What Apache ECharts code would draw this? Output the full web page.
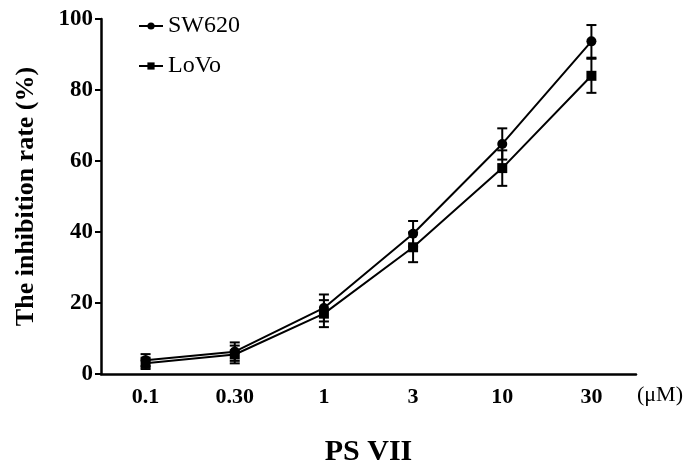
<!DOCTYPE html>
<html><head><meta charset="utf-8">
<script src="https://cdn.jsdelivr.net/npm/echarts@6/dist/echarts.min.js"></script>
<style>html,body{margin:0;padding:0;background:#fff}#c{width:689px;height:466px}</style>
</head><body><div id="c"></div>
<script>
const categories = ['0.1', '0.30', '1', '3', '10', '30'];
const sw620 = [3.9, 6.3, 18.6, 39.5, 64.8, 93.7];
const sw620Err = [1.7, 2.6, 3.8, 3.6, 4.4, 4.6];
const lovo = [3.0, 5.5, 17.0, 35.7, 58.0, 84.0];
const lovoErr = [1.6, 2.5, 3.8, 4.2, 5.0, 4.8];
const yTicks = [0, 20, 40, 60, 80, 100];

const FONT = '"Liberation Serif", "Times New Roman", serif';

function errSeries(name, vals, errs) {
  return {
    type: 'custom', name: name + ' err', silent: true, z: 3,
    data: vals.map((v, i) => [i, v - errs[i], v + errs[i]]),
    renderItem: function (params, api) {
      const lo = api.coord([api.value(0), api.value(1)]);
      const hi = api.coord([api.value(0), api.value(2)]);
      const w = 5;
      const st = { stroke: '#000', lineWidth: 2 };
      return { type: 'group', children: [
        { type: 'line', shape: { x1: lo[0], y1: lo[1], x2: hi[0], y2: hi[1] }, style: st },
        { type: 'line', shape: { x1: lo[0] - w, y1: lo[1], x2: lo[0] + w, y2: lo[1] }, style: st },
        { type: 'line', shape: { x1: hi[0] - w, y1: hi[1], x2: hi[0] + w, y2: hi[1] }, style: st }
      ]};
    }
  };
}

const chart = echarts.init(document.getElementById('c'));
chart.setOption({
  animation: false,
  grid: { left: 101, right: 53, top: 19, bottom: 92, containLabel: false, outerBoundsMode: 'none' },
  legend: {
    left: 133, top: 9, orient: 'vertical', itemGap: 16, itemWidth: 24, itemHeight: 9,
    data: ['SW620', 'LoVo'],
    textStyle: { fontFamily: FONT, fontSize: 24, color: '#000' }
  },
  xAxis: {
    type: 'category', data: categories, boundaryGap: true,
    axisLine: { lineStyle: { color: '#000', width: 2.5 } },
    axisTick: { alignWithLabel: true, length: 6, lineStyle: { color: '#000', width: 2 } },
    axisLabel: { fontFamily: FONT, fontWeight: 'bold', fontSize: 22, color: '#000', margin: 12 },
    name: 'PS VII', nameLocation: 'middle', nameGap: 63,
    nameTextStyle: { fontFamily: FONT, fontWeight: 'bold', fontSize: 30, color: '#000' }
  },
  yAxis: {
    type: 'value', min: 0, max: 100, interval: 20,
    axisLine: { show: true, lineStyle: { color: '#000', width: 2.5 } },
    axisTick: { show: true, length: 6, lineStyle: { color: '#000', width: 2 } },
    splitLine: { show: false },
    axisLabel: { fontFamily: FONT, fontWeight: 'bold', fontSize: 23, color: '#000', margin: 8,
      formatter: v => yTicks.includes(v) ? String(v) : '' },
    name: 'The inhibition rate (%)', nameLocation: 'middle', nameGap: 62,
    nameTextStyle: { fontFamily: FONT, fontWeight: 'bold', fontSize: 26, color: '#000' }
  },
  graphic: [{
    type: 'text', left: 637, top: 384,
    style: { text: '(μM)', font: '22px ' + FONT, fill: '#000' }
  }],
  series: [
    { name: 'SW620', type: 'line', data: sw620, symbol: 'circle', symbolSize: 10,
      lineStyle: { color: '#000', width: 2 }, itemStyle: { color: '#000' }, z: 4 },
    { name: 'LoVo', type: 'line', data: lovo, symbol: 'rect', symbolSize: 10,
      lineStyle: { color: '#000', width: 2 }, itemStyle: { color: '#000' }, z: 4 },
    errSeries('SW620', sw620, sw620Err),
    errSeries('LoVo', lovo, lovoErr)
  ]
});
</script></body></html>
